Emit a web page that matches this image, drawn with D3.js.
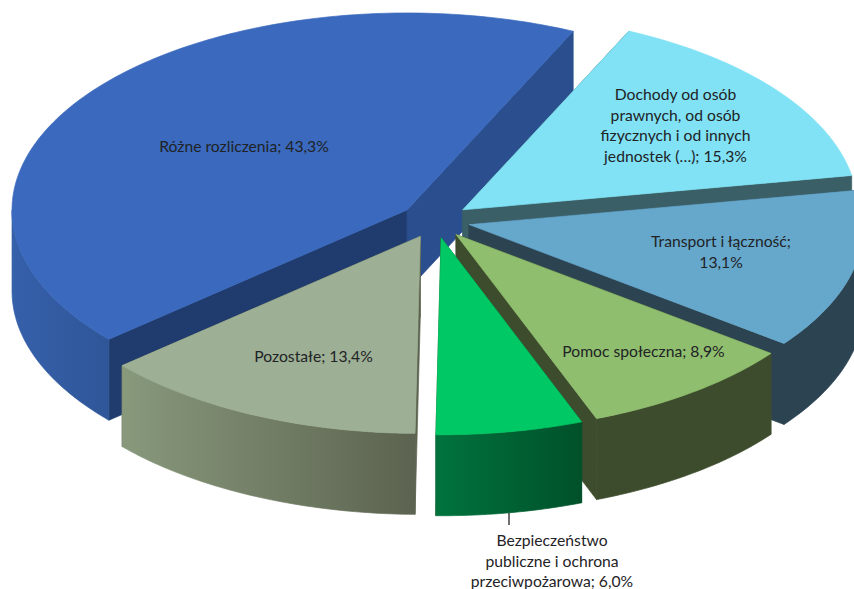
<!DOCTYPE html>
<html><head><meta charset="utf-8">
<script src="https://cdn.jsdelivr.net/npm/d3@7"></script>
<style>html,body{margin:0;background:#fff}svg{display:block}</style></head>
<body><svg id="c" width="854" height="589"></svg>
<script>
const categories = ["Różne rozliczenia","Dochody od osób prawnych, od osób fizycznych i od innych jednostek (...)","Transport i łączność","Pomoc społeczna","Bezpieczeństwo publiczne i ochrona przeciwpożarowa","Pozostałe"];
const values = [43.3,15.3,13.1,8.9,6.0,13.4];
const valueLabels = ["43,3%","15,3%","13,1%","8,9%","6,0%","13,4%"];
const topColors = ["#3a69bd","#80e2f4","#66a8cb","#8fbe6e","#00c864","#9db095"];
const wallColorsA = ["#2a4e8e","#3a5f66","#2c4352","#3d4c2c","#3d4c2c","#5d6450"];
const wallColorsB = ["#203c6e","#3a5f66","#2c4352","#3d4c2c","#004f28","#5d6450"];
const outerFrom = ["#3560aa","#3a5f66","#2c4352","#3d4c2c","#00733d","#88997c"];
const outerTo = ["#2f5698","#3a5f66","#2c4352","#3d4c2c","#00512a","#5c6350"];
const labelLines = [["Różne rozliczenia; 43,3%"],["Dochody od osób","prawnych, od osób","fizycznych i od innych","jednostek (…); 15,3%"],["Transport i łączność;","13,1%"],["Pomoc społeczna; 8,9%"],["Bezpieczeństwo","publiczne i ochrona","przeciwpożarowa; 6,0%"],["Pozostałe; 13,4%"]];
const labelAnchors = [[244,147],[675.5,95],[721,242],[643.5,352],[552,541],[313.5,357]];

const cx=435, cy=220.5, rx=395, ry=197, explode=35, depth=81, lineH=20.6;
const svg=d3.select("#c"), defs=svg.append("defs");
const start=-131*Math.PI/180;
const arcs=d3.pie().sort(null).startAngle(start).endAngle(start+2*Math.PI)(values);
const X=d3.scaleLinear().domain([-1,1]).range([-rx,rx]);
const Y=d3.scaleLinear().domain([-1,1]).range([-ry,ry]);
const line=d3.line();
const order=[0,1,2,3,5,4];
order.forEach(i=>{
  const a=arcs[i], mid=(a.startAngle+a.endAngle)/2;
  const ax=cx+explode*Math.sin(mid), ay=cy-explode*0.5*Math.cos(mid);
  const pt=t=>[ax+X(Math.sin(t)), ay+Y(-Math.cos(t))];
  const n=Math.ceil((a.endAngle-a.startAngle)*60);
  const rim=d3.range(n+1).map(k=>a.startAngle+(a.endAngle-a.startAngle)*k/n).map(pt);
  // the outer wall is only seen on the front half of the ellipse
  const front=d3.range(n+1).map(k=>a.startAngle+(a.endAngle-a.startAngle)*k/n)
    .filter(t=>Math.cos(t)<=0).map(pt);
  const down=p=>[p[0],p[1]+depth];
  const apex=[ax,ay];
  const g=svg.append("g");
  const poly=(pts,fill)=>g.append("path").attr("d",line(pts)+"Z").attr("fill",fill).attr("stroke",fill).attr("stroke-width",0.7);
  poly([apex,rim[0],down(rim[0]),down(apex)],wallColorsB[i]);
  poly([apex,rim[n],down(rim[n]),down(apex)],wallColorsA[i]);
  if(front.length>1){
    const id="w"+i, xs=d3.extent(front,p=>p[0]);
    const gr=defs.append("linearGradient").attr("id",id).attr("gradientUnits","userSpaceOnUse")
      .attr("x1",xs[1]).attr("x2",xs[0]).attr("y1",0).attr("y2",0);
    gr.append("stop").attr("offset",0).attr("stop-color",outerTo[i]);
    gr.append("stop").attr("offset",1).attr("stop-color",outerFrom[i]);
    poly(front.concat(front.slice().reverse().map(down)),`url(#${id})`);
  }
  poly([apex].concat(rim),topColors[i]);
});
// leader line for the label below the pie
svg.append("line").attr("x1",509).attr("x2",509).attr("y1",513).attr("y2",525).attr("stroke","#111").attr("stroke-width",1.2);
labelLines.forEach((ls,i)=>{
  const t=svg.append("text").attr("text-anchor","middle").attr("font-family","Lato, 'Open Sans', sans-serif")
    .attr("font-size",15.7).attr("fill","#1f2326");
  ls.forEach((s,k)=>t.append("tspan").attr("x",labelAnchors[i][0]).attr("y",labelAnchors[i][1]+k*lineH+5).text(s));
});
</script></body></html>
